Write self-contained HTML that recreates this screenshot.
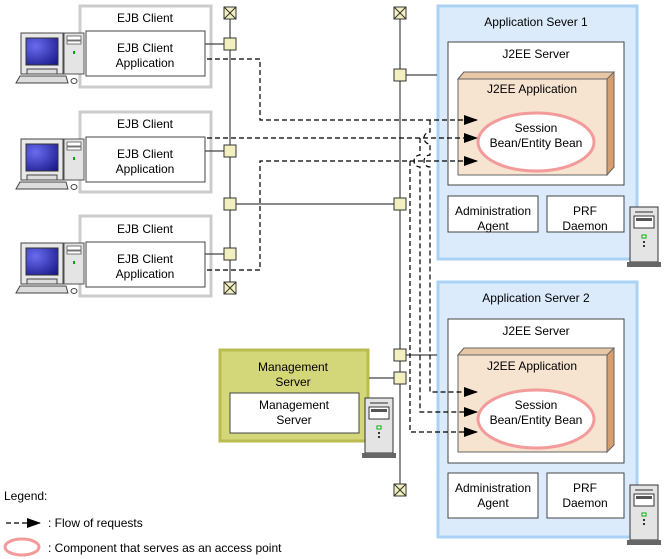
<!DOCTYPE html>
<html><head><meta charset="utf-8"><style>
body{margin:0;background:#fff}
svg{display:block}
text{font-family:"Liberation Sans",sans-serif;font-size:12px;fill:#000;text-anchor:middle}
</style></head><body>
<svg width="664" height="559" viewBox="0 0 664 559" xmlns="http://www.w3.org/2000/svg">
<defs>
<marker id="ah" markerWidth="14" markerHeight="10" refX="13" refY="5" orient="auto" markerUnits="userSpaceOnUse"><path d="M0,0 L14,5 L0,10 z" fill="#000"/></marker>
<radialGradient id="scr" cx="0.3" cy="0.3" r="0.9"><stop offset="0" stop-color="#6a6cf0"/><stop offset="1" stop-color="#1a1a8a"/></radialGradient>
<g id="pc">
<rect x="64" y="33" width="20" height="41" fill="#e4e4e4" stroke="#555"/>
<rect x="67" y="36" width="14" height="4" fill="#fff" stroke="#555" stroke-width="0.8"/>
<rect x="67" y="41" width="14" height="3" fill="#fff" stroke="#555" stroke-width="0.8"/>
<rect x="73" y="51" width="2" height="3" fill="#0a0"/>
<rect x="21" y="33" width="42" height="41" fill="#e8e8e8" stroke="#444"/>
<rect x="26" y="38" width="32" height="27" fill="url(#scr)" stroke="#333"/>
<rect x="27" y="69" width="30" height="5" fill="#ddd" stroke="#444"/>
<path d="M20,76 L66,76 L68,83 L16,83 z" fill="#ddd" stroke="#444"/>
<ellipse cx="74" cy="81" rx="3" ry="2.5" fill="#fff" stroke="#444"/>
</g>
<g id="tower">
<rect x="0" y="0" width="28" height="55" fill="#e4e4e4" stroke="#333"/>
<rect x="5" y="4" width="18" height="2" fill="#888"/>
<rect x="4" y="9" width="20" height="12" fill="#fff" stroke="#333"/>
<rect x="6" y="11" width="16" height="3" fill="#555"/>
<rect x="12" y="28" width="4" height="3" fill="#fff" stroke="#0a0"/>
<rect x="13" y="34" width="2" height="2" fill="#333"/>
<rect x="13" y="38" width="2" height="2" fill="#333"/>
<rect x="-3" y="55" width="34" height="5" fill="#666"/>
</g>
<g id="xb"><rect x="-6" y="-6" width="12" height="12" fill="#f3f0c0" stroke="#333"/><path d="M-6,-6 L6,6 M6,-6 L-6,6" stroke="#333"/></g>
<g id="sq"><rect x="-6" y="-6" width="12" height="12" fill="#f3f0c0" stroke="#333"/></g>
</defs>

<!-- EJB clients -->
<g stroke="#ccc" stroke-width="3" fill="#fff">
<rect x="80" y="6" width="131" height="81"/>
<rect x="80" y="112" width="131" height="80"/>
<rect x="80" y="216" width="131" height="80"/>
</g>
<use href="#pc"/>
<use href="#pc" y="106"/>
<use href="#pc" y="210"/>
<g fill="#fff" stroke="#444">
<rect x="86" y="31" width="119" height="45"/>
<rect x="86" y="137" width="119" height="45"/>
<rect x="86" y="242" width="119" height="45"/>
</g>
<text x="145" y="22">EJB Client</text>
<text x="145" y="52">EJB Client</text><text x="145" y="67">Application</text>
<text x="145" y="128">EJB Client</text>
<text x="145" y="158">EJB Client</text><text x="145" y="173">Application</text>
<text x="145" y="233">EJB Client</text>
<text x="145" y="263">EJB Client</text><text x="145" y="278">Application</text>

<!-- App server 1 -->
<rect x="438" y="6" width="199" height="253" fill="#dcebfc" stroke="#a9d2f5" stroke-width="3"/>
<text x="536" y="26">Application Sever 1</text>
<rect x="448" y="42" width="176" height="143" fill="#fff" stroke="#444"/>
<text x="536" y="58">J2EE Server</text>
<path d="M458,79 L464,72 L614,72 L614,167 L607,175 L607,79 z" fill="#d49e6e" stroke="#666"/>
<path d="M458,79 L464,72 L614,72 L607,79 z" fill="#e8c7a6" stroke="#666"/>
<rect x="458" y="79" width="149" height="96" fill="#f6e3d0" stroke="#666"/>
<text x="532" y="93">J2EE Application</text>
<ellipse cx="536" cy="142" rx="58" ry="29" fill="#fff" stroke="#f39a9a" stroke-width="3"/>
<text x="536" y="132">Session</text><text x="536" y="147">Bean/Entity Bean</text>
<rect x="448" y="196" width="90" height="36" fill="#fff" stroke="#444"/>
<rect x="547" y="196" width="77" height="36" fill="#fff" stroke="#444"/>
<text x="493" y="215">Administration</text><text x="493" y="230">Agent</text>
<text x="585" y="215">PRF</text><text x="585" y="230">Daemon</text>
<use href="#tower" x="630" y="207"/>

<!-- App server 2 -->
<rect x="438" y="282" width="199" height="255" fill="#dcebfc" stroke="#a9d2f5" stroke-width="3"/>
<text x="536" y="302">Application Server 2</text>
<rect x="448" y="319" width="176" height="144" fill="#fff" stroke="#444"/>
<text x="536" y="335">J2EE Server</text>
<path d="M458,355 L464,348 L614,348 L614,445 L607,452 L607,355 z" fill="#d49e6e" stroke="#666"/>
<path d="M458,355 L464,348 L614,348 L607,355 z" fill="#e8c7a6" stroke="#666"/>
<rect x="458" y="355" width="149" height="97" fill="#f6e3d0" stroke="#666"/>
<text x="532" y="370">J2EE Application</text>
<ellipse cx="536" cy="419" rx="58" ry="29" fill="#fff" stroke="#f39a9a" stroke-width="3"/>
<text x="536" y="409">Session</text><text x="536" y="424">Bean/Entity Bean</text>
<rect x="448" y="473" width="90" height="45" fill="#fff" stroke="#444"/>
<rect x="547" y="473" width="77" height="45" fill="#fff" stroke="#444"/>
<text x="493" y="492">Administration</text><text x="493" y="507">Agent</text>
<text x="585" y="492">PRF</text><text x="585" y="507">Daemon</text>
<use href="#tower" x="630" y="485"/>

<!-- Management server -->
<rect x="220" y="350" width="148" height="91" fill="#d4d67a" stroke="#b9bc4e" stroke-width="3"/>
<text x="293" y="371">Management</text><text x="293" y="386">Server</text>
<rect x="230" y="393" width="129" height="40" fill="#fff" stroke="#444"/>
<text x="294" y="409">Management</text><text x="294" y="424">Server</text>
<use href="#tower" x="365" y="398"/>

<!-- buses -->
<g stroke="#444" stroke-width="1.2" fill="none">
<line x1="230" y1="13" x2="230" y2="289"/>
<line x1="400" y1="13" x2="400" y2="490"/>
<line x1="205" y1="44" x2="230" y2="44"/>
<line x1="205" y1="151" x2="230" y2="151"/>
<line x1="205" y1="254" x2="230" y2="254"/>
<line x1="230" y1="204" x2="400" y2="204"/>
<line x1="400" y1="75" x2="437" y2="75"/>
<line x1="400" y1="355" x2="437" y2="355"/>
<line x1="369" y1="378" x2="400" y2="378"/>
</g>
<use href="#xb" x="230" y="13"/><use href="#xb" x="230" y="288"/>
<use href="#xb" x="400" y="13"/><use href="#xb" x="400" y="490"/>
<use href="#sq" x="230" y="44"/><use href="#sq" x="230" y="151"/><use href="#sq" x="230" y="204"/><use href="#sq" x="230" y="254"/>
<use href="#sq" x="400" y="75"/><use href="#sq" x="400" y="204"/><use href="#sq" x="400" y="355"/><use href="#sq" x="400" y="378"/>

<!-- dashed request flows -->
<g stroke="#000" stroke-width="1.2" fill="none" stroke-dasharray="5,3">
<path d="M207,59 L260,59 L260,120 L477,120" marker-end="url(#ah)"/>
<path d="M207,138 L477,138" marker-end="url(#ah)"/>
<path d="M207,270 L260,270 L260,161 L477,161" marker-end="url(#ah)"/>
<path d="M430,120 L430,132 A6,6 0 0 0 430,144 L430,155 A6,6 0 0 0 430,167 L430,392 L477,392" marker-end="url(#ah)"/>
<path d="M420,138 L420,155 A6,6 0 0 0 420,167 L420,412 L477,412" marker-end="url(#ah)"/>
<path d="M410,161 L410,432 L477,432" marker-end="url(#ah)"/>
</g>

<!-- legend -->
<text x="4" y="500" style="text-anchor:start">Legend:</text>
<path d="M6,523 L40,523" stroke="#000" stroke-width="1.2" stroke-dasharray="5,3" marker-end="url(#ah)"/>
<text x="48" y="527" style="text-anchor:start">: Flow of requests</text>
<ellipse cx="22" cy="547" rx="17" ry="8" fill="#fff" stroke="#f39a9a" stroke-width="3"/>
<text x="48" y="552" style="text-anchor:start">: Component that serves as an access point</text>
</svg>
</body></html>
